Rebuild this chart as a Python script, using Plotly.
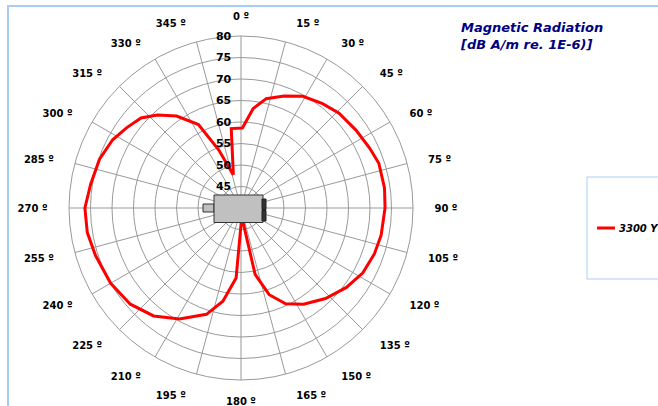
import plotly.graph_objects as go

W, H = 658, 406

# Data (angle in degrees, level in dB A/m re 1E-6)
theta_deg = [347, 353, 1, 7, 13, 21, 29, 38, 46, 56, 65, 72, 82, 90, 101, 109, 118,
             127, 137, 147, 155, 162, 168, 175, 184, 191, 198, 209, 219, 229, 240,
             252, 261, 270, 279, 289, 298, 305, 312, 318, 325, 333, 339, 347]
level_db = [47.9, 58.6, 58.6, 63.3, 66.1, 67.9, 69.7, 70.8, 71.7, 72.3, 73.0, 73.7, 73.7,
            73.5, 73.2, 72.8, 72.1, 70.7, 68.8, 66.7, 64.6, 61.2, 55.8, 42.0, 56.3, 62.1,
            66.0, 69.5, 72.3, 74.1, 75.0, 75.6, 76.2, 76.3, 75.4, 74.8, 73.8, 72.5, 71.3,
            69.1, 66.1, 61.8, 54.5, 47.9]
series_name = "3300 Y"

angle_ticks = list(range(0, 360, 15))
angle_labels = [f"\u00a0\u00a0{a} º\u00a0\u00a0" for a in angle_ticks]
radial_ticks = [45, 50, 55, 60, 65, 70, 75, 80]
radial_labels = [f"{v}\u00a0\u00a0" for v in radial_ticks]

title_text = "Magnetic Radiation<br>[dB A/m re. 1E-6)]"

RED = "#ff0000"
BLUE_FRAME = "#a8cdf5"

fig = go.Figure()
fig.add_trace(go.Scatterpolar(
    r=level_db, theta=theta_deg, mode="lines", name=series_name,
    line=dict(color=RED, width=3), showlegend=False,
))

cx, cy, R = 241, 208, 172
fig.update_layout(
    width=W, height=H,
    margin=dict(l=0, r=0, t=0, b=0, autoexpand=False),
    paper_bgcolor="white",
    plot_bgcolor="white",
    showlegend=False,
    polar=dict(
        domain=dict(x=[(cx - R) / W, (cx + R) / W], y=[1 - (cy + R) / H, 1 - (cy - R) / H]),
        bgcolor="white",
        angularaxis=dict(
            rotation=90, direction="clockwise",
            tickmode="array", tickvals=angle_ticks, ticktext=angle_labels,
            tickfont=dict(family="DejaVu Sans", size=10, color="black", weight="bold"),
            ticks="outside", ticklen=12, tickcolor="rgba(0,0,0,0)",
            showline=True, linecolor="#999999", linewidth=1,
            gridcolor="#999999", gridwidth=1,
        ),
        radialaxis=dict(
            range=[40, 80], angle=90, side="counterclockwise",
            tickmode="array", tickvals=radial_ticks, ticktext=radial_labels,
            tickfont=dict(family="DejaVu Sans", size=11, color="black", weight="bold"),
            showline=False, ticks="", tickangle=90,
            gridcolor="#999999", gridwidth=1,
        ),
    ),
    annotations=[
        dict(
            text=title_text, xref="paper", yref="paper",
            x=458 / W, y=1 - 18 / H, xanchor="left", yanchor="top", align="left",
            showarrow=False,
            font=dict(family="DejaVu Sans", size=13, color="#000080", weight="bold", style="italic"),
        ),
        # legend entry text
        dict(
            text=series_name, xref="paper", yref="paper",
            x=617 / W, y=1 - 228 / H, xanchor="left", yanchor="middle", align="left",
            showarrow=False,
            font=dict(family="DejaVu Sans", size=10, color="black", weight="bold", style="italic"),
        ),
    ],
)


def px_rect(x0, y0, x1, y1, **kw):
    return dict(type="rect", xref="paper", yref="paper",
                x0=x0 / W, x1=x1 / W, y0=1 - y1 / H, y1=1 - y0 / H, **kw)


shapes = [
    # outer frame (light blue)
    px_rect(8, 6, W + 20, H + 20, line=dict(color=BLUE_FRAME, width=2), fillcolor="rgba(0,0,0,0)", layer="below"),
    # legend box
    px_rect(587, 177, W + 20, 279, line=dict(color=BLUE_FRAME, width=1), fillcolor="white", layer="below"),
    # legend line sample
    dict(type="line", xref="paper", yref="paper", x0=597 / W, x1=615 / W,
         y0=1 - 228 / H, y1=1 - 228 / H, line=dict(color=RED, width=3)),
    # motor: shaft
    px_rect(203, 204, 214, 212, line=dict(color="#333333", width=1), fillcolor="#c0c0c0"),
    # motor: body
    px_rect(214, 195, 263, 222.5, line=dict(color="#333333", width=1), fillcolor="#c0c0c0"),
    # motor: end caps
    px_rect(262, 199, 266, 209.5, line=dict(color="#222222", width=1), fillcolor="#333333"),
    px_rect(262, 210.5, 266, 221, line=dict(color="#222222", width=1), fillcolor="#333333"),
]
fig.update_layout(shapes=shapes)

fig.write_html(
    "out.html",
    config={"displayModeBar": False},
    post_script="document.body.style.margin='0';document.body.style.overflow='hidden';",
)
